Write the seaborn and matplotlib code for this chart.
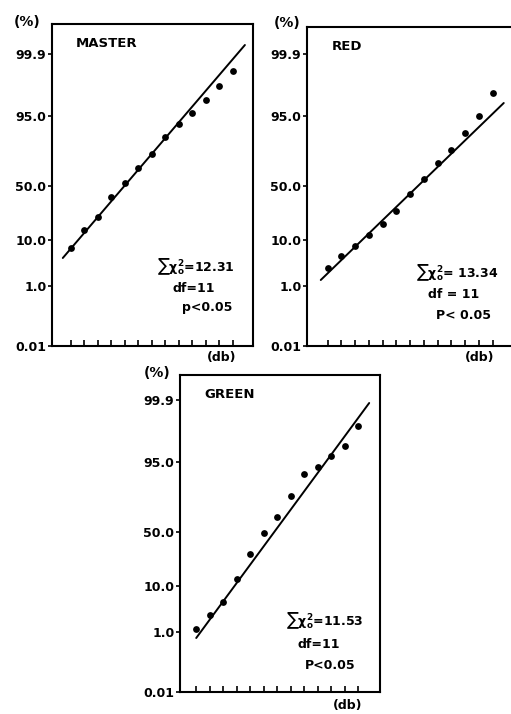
import numpy as np
import pandas as pd
import seaborn as sns
import matplotlib.pyplot as plt

# probability scale labels and their positions on the (linear) plotting axis
y_labels = ["0.01", "1.0", "10.0", "50.0", "95.0", "99.9"]
y_pos = [0, 6.0, 10.6, 16.0, 23.0, 29.2]

steps = [0, 1, 2, 3, 4, 5, 6, 7, 8, 9, 10, 11, 12]

master_y = [9.8, 11.6, 12.9, 14.9, 16.3, 17.8, 19.2, 20.9, 22.2, 23.3, 24.6, 26.0, 27.5]
red_y = [7.8, 9.0, 10.0, 11.1, 12.2, 13.5, 15.2, 16.7, 18.3, 19.6, 21.3, 23.0, 25.3]
green_y = [6.3, 7.7, 9.0, 11.3, 13.8, 15.9, 17.5, 19.6, 21.8, 22.5, 23.6, 24.6, 26.6]

master_fit_x, master_fit_y = [-0.6, 12.9], [8.8, 30.1]
red_fit_x, red_fit_y = [-0.5, 12.8], [6.6, 24.3]
green_fit_x, green_fit_y = [0.0, 12.8], [5.4, 28.9]

sns.set_style("ticks", {"axes.edgecolor": "black", "text.color": "black",
                        "xtick.color": "black", "ytick.color": "black"})
plt.rcParams['font.family'] = ['DejaVu Sans']
plt.rcParams['mathtext.fontset'] = 'dejavusans'
plt.rcParams['mathtext.default'] = 'bf'

W, H = 511, 714
fig = plt.figure(figsize=(W / 100, H / 100), dpi=100)


def make_axes(left, top, right, bottom):
    return fig.add_axes([left / W, 1 - bottom / H, (right - left) / W, (bottom - top) / H])


def panel(ax, ys, fx, fy, xlim, ylim, name, stats, hide_right=False):
    df = pd.DataFrame({"db": steps, "pct": ys})
    sns.lineplot(x=fx, y=fy, ax=ax, color="black", linewidth=1.4)
    sns.scatterplot(data=df, x="db", y="pct", ax=ax, color="black", s=24,
                    edgecolor="black", linewidth=0, zorder=3)
    ax.set_xlim(*xlim)
    ax.set_ylim(*ylim)
    ax.set_xticks(steps)
    ax.set_xticklabels([])
    ax.tick_params(axis="x", direction="in", length=4, width=1.2)
    ax.set_yticks(y_pos)
    ax.set_yticklabels(y_labels, fontsize=9, fontweight="bold")
    ax.tick_params(axis="y", direction="out", length=3, width=1.2, pad=1)
    ax.set_xlabel("")
    ax.set_ylabel("")
    for s in ax.spines.values():
        s.set_linewidth(1.5)
    if hide_right:
        ax.spines["right"].set_visible(False)
    ax.text(0.12, 0.94, name, transform=ax.transAxes, fontsize=9.5,
            fontweight="bold", ha="left", va="center")
    for (tx, ty, t) in stats:
        ax.text(tx, ty, t, transform=ax.transAxes, fontsize=9, ha="left",
                va="center", fontweight="bold")


ax1 = make_axes(52, 24, 253, 346)
panel(ax1, master_y, master_fit_x, master_fit_y, (-1.4, 13.5), (0, 32.2), "MASTER",
      [(0.52, 0.245, r"$\sum\chi_o^2$=12.31"),
       (0.60, 0.18, "df=11"),
       (0.645, 0.12, "p<0.05")])

ax2 = make_axes(307, 27, 512, 346)
panel(ax2, red_y, red_fit_x, red_fit_y, (-1.5, 13.4), (0, 31.9), "RED",
      [(0.53, 0.23, r"$\sum\chi_o^2$= 13.34"),
       (0.59, 0.16, "df = 11"),
       (0.63, 0.095, "P< 0.05")], hide_right=True)

ax3 = make_axes(180, 375, 380, 692)
panel(ax3, green_y, green_fit_x, green_fit_y, (-1.2, 13.6), (0, 31.7), "GREEN",
      [(0.53, 0.225, r"$\sum\chi_o^2$=11.53"),
       (0.585, 0.15, "df=11"),
       (0.625, 0.085, "P<0.05")])

# unit labels
for (x, y, t) in [(27, 22, "(%)"), (287, 23, "(%)"), (157, 373, "(%)")]:
    fig.text(x / W, 1 - y / H, t, fontsize=10, fontweight="bold", ha="center", va="center")
for (x, y, t) in [(222, 358, "(db)"), (480, 358, "(db)"), (348, 706, "(db)")]:
    fig.text(x / W, 1 - y / H, t, fontsize=9, fontweight="bold", ha="center", va="center")

fig.savefig("out.png", dpi=100)
